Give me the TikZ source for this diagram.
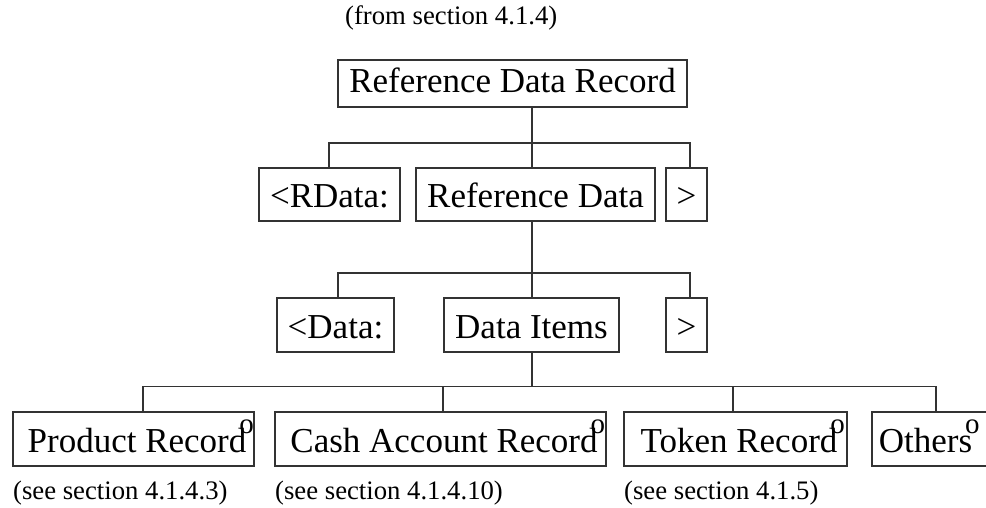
\documentclass[tikz,border=0pt]{standalone}
\usepackage{fontspec}
\setmainfont{Liberation Serif}
\newcommand{\supo}{\kern-7pt\rlap{\smash{\raisebox{19pt}{\fontsize{29}{29}\selectfont o}}}}
\begin{document}
\begin{tikzpicture}[x=1pt,y=-1pt,
  conn/.style={draw=black!80, line width=1.2pt},
  box/.style={draw=black!80, line width=1.2pt, inner sep=0pt, minimum height=54pt,
    text height=26pt, text depth=0pt, font=\fontsize{35}{40}\selectfont},
  note/.style={inner sep=0pt, anchor=west, font=\fontsize{26.7}{30}\selectfont}]
\useasboundingbox (0,0) rectangle (986,508);
\begin{scope}
\clip (0,0) rectangle (986,508);
% labels
\node[note] (from) at (345,18) {(from section 4.1.4)};
% top
\node[box, minimum width=349pt, minimum height=47pt, text height=19pt] (top) at (512.5,83.5) {Reference Data Record};
% row 2
\node[box, minimum width=141pt, minimum height=53pt] (rdata) at (329.5,194.5) {<RData:};
\node[box, minimum width=239pt, minimum height=53pt] (refdata) at (535.5,194.5) {Reference Data};
\node[box, minimum width=41pt, minimum height=53pt] (gta) at (686.5,194.5) {>};
% row 3
\node[box, minimum width=117pt] (data) at (335.5,325) {<Data:};
\node[box, minimum width=175pt] (items) at (531.5,325) {Data Items};
\node[box, minimum width=41pt] (gtb) at (686.5,325) {>};
% row 4
\node[box, minimum width=241pt] (product) at (133.5,439) {Product Record\supo};
\node[box, minimum width=331pt] (cash) at (440.5,439) {Cash Account Record\supo};
\node[box, minimum width=223pt] (token) at (735.5,439) {Token Record\supo};
\node[box, minimum width=128pt] (others) at (936,439) {Others\supo\rule{28pt}{0pt}};
% notes
\node[note] (n1) at (13,493) {(see section 4.1.4.3)};
\node[note] (n2) at (275,493) {(see section 4.1.4.10)};
\node[note] (n3) at (624,493) {(see section 4.1.5)};
% buses
\coordinate (b1) at (532,143);
\coordinate (b2) at (532,273);
\coordinate (b3) at (532,386.5);
% connectors level 1
\draw[conn] (top.south -| b1) -- (refdata.north -| b1);
\draw[conn] ([xshift=-0.5pt]rdata.north) |- (b1) -| ([xshift=3.5pt]gta.north);
% level 2
\draw[conn] (refdata.south -| b2) -- (items.north -| b2);
\draw[conn] ([xshift=2.5pt]data.north) |- (b2) -| ([xshift=3.5pt]gtb.north);
% level 3
\draw[conn] (items.south -| b3) -- (b3);
\draw[conn] ([xshift=9.5pt]product.north) |- (b3) -| (others.north);
\draw[conn] ([xshift=2.5pt]cash.north) -- ([xshift=2.5pt]cash.north |- b3);
\draw[conn] ([xshift=-2.5pt]token.north) -- ([xshift=-2.5pt]token.north |- b3);
\end{scope}
\end{tikzpicture}
\end{document}
